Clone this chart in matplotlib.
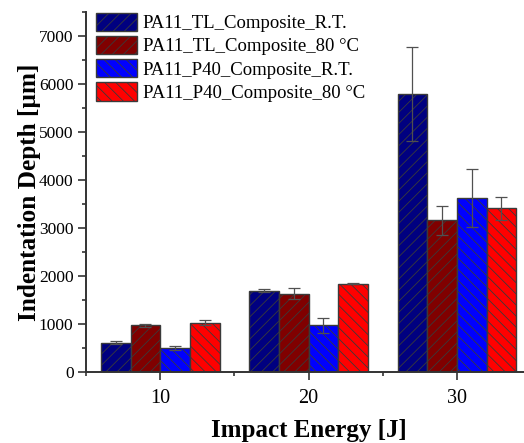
import matplotlib
matplotlib.use("Agg")
import matplotlib.pyplot as plt
import numpy as np
from matplotlib.ticker import MultipleLocator

energies = [10, 20, 30]
series = ["PA11_TL_Composite_R.T.", "PA11_TL_Composite_80 °C",
          "PA11_P40_Composite_R.T.", "PA11_P40_Composite_80 °C"]
tl_rt = [610, 1690, 5790]
tl_80 = [970, 1630, 3160]
p40_rt = [495, 970, 3630]
p40_80 = [1030, 1840, 3410]
tl_rt_err = [30, 30, 980]
tl_80_err = [30, 110, 300]
p40_rt_err = [40, 160, 600]
p40_80_err = [60, 10, 245]

values = [tl_rt, tl_80, p40_rt, p40_80]
errors = [tl_rt_err, tl_80_err, p40_rt_err, p40_80_err]
colors = ["#000080", "#800000", "#0000FF", "#FF0000"]
hatches = ["///", "///", "\\\\\\", "\\\\\\"]
offsets = [-3, -1, 1, 3]

plt.rcParams['font.family'] = ['Liberation Serif', 'DejaVu Serif']
plt.rcParams['hatch.linewidth'] = 0.6
plt.rcParams['hatch.color'] = '#000000'

fig = plt.figure(figsize=(5.24, 4.43), dpi=100)
ax = fig.add_axes([86/524, 71/443, (531-86)/524, (372-12)/443])

x = np.array(energies, dtype=float)
for vals, errs, c, h, off, name in zip(values, errors, colors, hatches, offsets, series):
    ax.bar(x + off, vals, width=2, color=c, edgecolor='#3a3a3a', linewidth=1,
           hatch=h, label=name, zorder=2)
    ax.errorbar(x + off, vals, yerr=errs, fmt='none', ecolor='#505050',
                elinewidth=0.9, capsize=4, capthick=0.9, zorder=3)

ax.set_xlim(5, 35)
ax.set_ylim(0, 7500)
ax.set_xticks(energies)
ax.xaxis.set_minor_locator(MultipleLocator(5))
ax.yaxis.set_major_locator(MultipleLocator(1000))
ax.yaxis.set_minor_locator(MultipleLocator(500))
ax.tick_params(axis='both', which='major', direction='out', length=6, width=1.2,
               color='#333333')
ax.tick_params(axis='both', which='minor', direction='out', length=3, width=1.2,
               color='#333333')
ax.tick_params(axis='y', labelsize=12.5, pad=3)
ax.tick_params(axis='x', labelsize=14.5, pad=6)
for s in ['top', 'right']:
    ax.spines[s].set_visible(False)
for s in ['left', 'bottom']:
    ax.spines[s].set_linewidth(1.4)
    ax.spines[s].set_color('#333333')

ax.set_xlabel("Impact Energy [J]", fontsize=18, fontweight='bold', labelpad=8)
ax.set_ylabel("Indentation Depth [µm]", fontsize=18.2, fontweight='bold')
ax.yaxis.set_label_coords(-0.102, 0.5)

leg = ax.legend(loc='upper left', bbox_to_anchor=(0.0218, 0.998), frameon=False,
                fontsize=13.5, handlelength=2.2, handleheight=1.12,
                labelspacing=0.2, handletextpad=0.32, borderaxespad=0,
                borderpad=0)

fig.savefig("out.png", dpi=100)
